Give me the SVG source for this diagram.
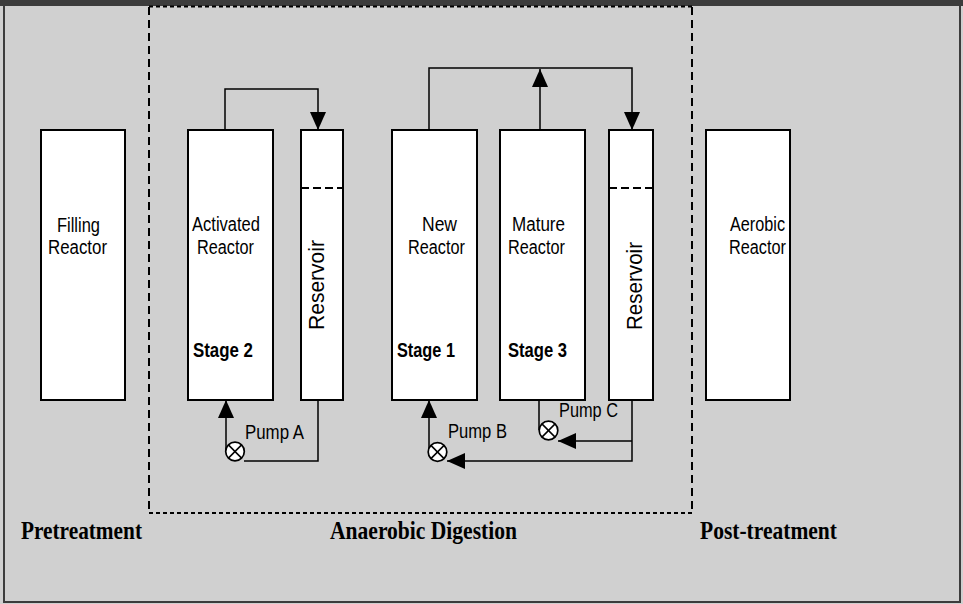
<svg xmlns="http://www.w3.org/2000/svg" width="963" height="604" viewBox="0 0 963 604">
<style>
.box{fill:#fff;stroke:#000;stroke-width:2}
.lbl{font-family:"Liberation Sans",Arial,sans-serif;font-size:20px;fill:#000}
.res{font-size:22px}
.stage{font-family:"Liberation Sans",Arial,sans-serif;font-size:20px;font-weight:bold;fill:#000}
.pl{font-family:"Liberation Sans",Arial,sans-serif;font-size:20px;fill:#000}
.phase{font-family:"Liberation Serif","Times New Roman",serif;font-size:26px;font-weight:bold;fill:#000}
.conn path{fill:none;stroke:#000;stroke-width:1.5}
.pump circle{fill:#fff;stroke:#000;stroke-width:1.7}
.pump line{stroke:#000;stroke-width:1.5}
.dv{stroke:#000;stroke-width:2;stroke-dasharray:8,5}
.dh{stroke:#000;stroke-width:2;stroke-dasharray:4,3}
.rd{stroke:#000;stroke-width:2;stroke-dasharray:8,4}
</style>
<defs>
<marker id="arr" markerUnits="userSpaceOnUse" markerWidth="19" markerHeight="16" refX="18" refY="8" orient="auto" viewBox="0 0 19 16">
<path d="M0,0 L18,8 L0,16 z" fill="#000"/>
</marker>
</defs>
<rect x="0" y="0" width="963" height="604" fill="#d0d0d0"/>
<rect x="4" y="2" width="956" height="600" fill="#d0d0d0" stroke="#3c3c3c" stroke-width="2"/>
<rect x="0" y="0" width="963" height="6" fill="#3c3c3c"/>

<g id="anaerobic-zone">
<line class="dh" x1="149" y1="6.5" x2="692" y2="6.5"/>
<line class="dh" x1="149" y1="513" x2="692" y2="513"/>
<line class="dv" x1="149" y1="7" x2="149" y2="513"/>
<line class="dv" x1="692" y1="7" x2="692" y2="513"/>
</g>

<g id="filling-reactor">
<rect class="box" x="41" y="130" width="84" height="270"/>
<text class="lbl" x="57" y="232" textLength="43" lengthAdjust="spacingAndGlyphs">Filling</text>
<text class="lbl" x="48" y="254" textLength="59" lengthAdjust="spacingAndGlyphs">Reactor</text>
</g>

<g id="activated-reactor">
<rect class="box" x="188" y="130" width="85" height="270"/>
<text class="lbl" x="192" y="231" textLength="68" lengthAdjust="spacingAndGlyphs">Activated</text>
<text class="lbl" x="197" y="254" textLength="57" lengthAdjust="spacingAndGlyphs">Reactor</text>
<text class="stage" x="193" y="357" textLength="60" lengthAdjust="spacingAndGlyphs">Stage 2</text>
</g>

<g id="reservoir-1">
<rect class="box" x="301" y="130" width="42" height="270"/>
<line class="rd" x1="301" y1="188" x2="343" y2="188"/>
<text class="lbl res" transform="translate(324,285) rotate(-90)" x="-45" y="0" textLength="90" lengthAdjust="spacingAndGlyphs">Reservoir</text>
</g>

<g id="new-reactor">
<rect class="box" x="392" y="130" width="85" height="270"/>
<text class="lbl" x="422" y="231" textLength="35" lengthAdjust="spacingAndGlyphs">New</text>
<text class="lbl" x="408" y="254" textLength="57" lengthAdjust="spacingAndGlyphs">Reactor</text>
<text class="stage" x="397" y="357" textLength="58" lengthAdjust="spacingAndGlyphs">Stage 1</text>
</g>

<g id="mature-reactor">
<rect class="box" x="500" y="130" width="85" height="270"/>
<text class="lbl" x="512" y="231" textLength="53" lengthAdjust="spacingAndGlyphs">Mature</text>
<text class="lbl" x="508" y="254" textLength="57" lengthAdjust="spacingAndGlyphs">Reactor</text>
<text class="stage" x="508" y="357" textLength="59" lengthAdjust="spacingAndGlyphs">Stage 3</text>
</g>

<g id="reservoir-2">
<rect class="box" x="609" y="130" width="44" height="270"/>
<line class="rd" x1="609" y1="188" x2="653" y2="188"/>
<text class="lbl res" transform="translate(642,286) rotate(-90)" x="-44" y="0" textLength="88" lengthAdjust="spacingAndGlyphs">Reservoir</text>
</g>

<g id="aerobic-reactor">
<rect class="box" x="706" y="130" width="84" height="270"/>
<text class="lbl" x="730" y="231" textLength="55" lengthAdjust="spacingAndGlyphs">Aerobic</text>
<text class="lbl" x="729" y="254" textLength="57" lengthAdjust="spacingAndGlyphs">Reactor</text>
</g>

<g id="connectors" class="conn">
<path d="M225,130 V89 H318 V130" marker-end="url(#arr)"/>
<path d="M429,130 V68 H632 V130" marker-end="url(#arr)"/>
<path d="M540,130 V69" marker-end="url(#arr)"/>
<path d="M226,450 V400" marker-end="url(#arr)"/>
<path d="M318,400 V461 H244"/>
<path d="M429,450 V400" marker-end="url(#arr)"/>
<path d="M632,400 V461 H447" marker-end="url(#arr)"/>
<path d="M632,441 H558" marker-end="url(#arr)"/>
<path d="M539,400 V430"/>
</g>

<g id="pump-a" class="pump">
<circle cx="235" cy="451.5" r="9.3"/>
<line x1="228.4" y1="444.9" x2="241.6" y2="458.1"/>
<line x1="241.6" y1="444.9" x2="228.4" y2="458.1"/>
<text class="pl" x="245" y="439" textLength="59" lengthAdjust="spacingAndGlyphs">Pump A</text>
</g>
<g id="pump-b" class="pump">
<circle cx="437.5" cy="452" r="9.3"/>
<line x1="430.9" y1="445.4" x2="444.1" y2="458.6"/>
<line x1="444.1" y1="445.4" x2="430.9" y2="458.6"/>
<text class="pl" x="448" y="438" textLength="59" lengthAdjust="spacingAndGlyphs">Pump B</text>
</g>
<g id="pump-c" class="pump">
<circle cx="548.5" cy="430.5" r="9.3"/>
<line x1="541.9" y1="423.9" x2="555.1" y2="437.1"/>
<line x1="555.1" y1="423.9" x2="541.9" y2="437.1"/>
<text class="pl" x="559" y="417" textLength="59" lengthAdjust="spacingAndGlyphs">Pump C</text>
</g>

<g id="phase-labels">
<text class="phase" x="21" y="539" textLength="121" lengthAdjust="spacingAndGlyphs">Pretreatment</text>
<text class="phase" x="330" y="539" textLength="187" lengthAdjust="spacingAndGlyphs">Anaerobic Digestion</text>
<text class="phase" x="700" y="539" textLength="137" lengthAdjust="spacingAndGlyphs">Post-treatment</text>
</g>
</svg>
